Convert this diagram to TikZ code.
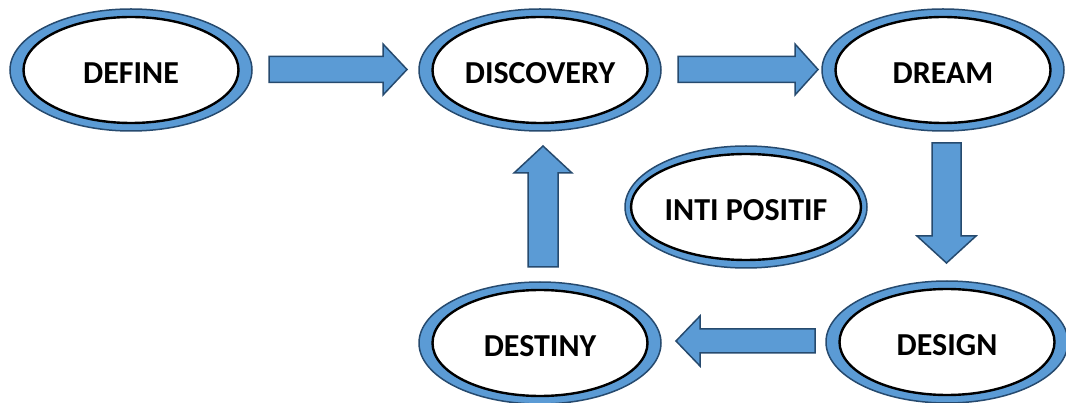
\documentclass[tikz,border=0pt]{standalone}
\usepackage{fontspec}
\setmainfont{Carlito}
\usetikzlibrary{shapes.geometric}
\definecolor{ringblue}{HTML}{5B9BD5}
\definecolor{ringedge}{HTML}{264A6E}
\tikzset{
  ring/.style={ellipse, minimum width=242pt, minimum height=122pt, inner sep=0pt,
    fill=ringblue, draw=ringedge, line width=1.5pt},
  core/.style={ellipse, minimum width=215pt, minimum height=106pt, inner sep=0pt,
    fill=white, draw=black, line width=2.4pt, text height=27pt, text depth=0pt,
    font=\fontsize{32}{38}\selectfont\bfseries},
  blockarrow/.style={fill=ringblue, draw=ringedge, line width=1.5pt, line join=miter}
}
\begin{document}
\begin{tikzpicture}[x=1pt,y=-1pt]
\useasboundingbox (0,0) rectangle (1066,403);
% rings
\node[ring] (defineR) at (131,70) {};
\node[ring] (discoveryR) at (540,70) {};
\node[ring] (dreamR) at (943,70) {};
\node[ring] (intiR) at (746,207) {};
\node[ring] (designR) at (947,342) {};
\node[ring] (destinyR) at (540,343) {};
% cores
\node[core] (define) at (defineR.center) {DEFINE};
\node[core] (discovery) at (discoveryR.center) {DISCOVERY};
\node[core] (dream) at (dreamR.center) {DREAM};
\node[core] (inti) at (intiR.center) {INTI POSITIF};
\node[core] (design) at (designR.center) {DESIGN};
\node[core] (destiny) at (destinyR.center) {DESTINY};
% block arrows
\draw[blockarrow] (269,56.5) -- (383,56.5) -- (383,44) -- (407,69.5) -- (383,95) -- (383,82.5) -- (269,82.5) -- cycle;
\draw[blockarrow] (678,56.5) -- (795,56.5) -- (795,44) -- (818,69.5) -- (795,95) -- (795,82.5) -- (678,82.5) -- cycle;
\draw[blockarrow] (932,143) -- (961,143) -- (961,236) -- (976,236) -- (946.5,263) -- (917,236) -- (932,236) -- cycle;
\draw[blockarrow] (815,329) -- (700,329) -- (700,316) -- (676,341) -- (700,366) -- (700,353) -- (815,353) -- cycle;
\draw[blockarrow] (528,267) -- (528,173) -- (514,173) -- (543,146) -- (572,173) -- (558,173) -- (558,267) -- cycle;
\end{tikzpicture}
\end{document}
